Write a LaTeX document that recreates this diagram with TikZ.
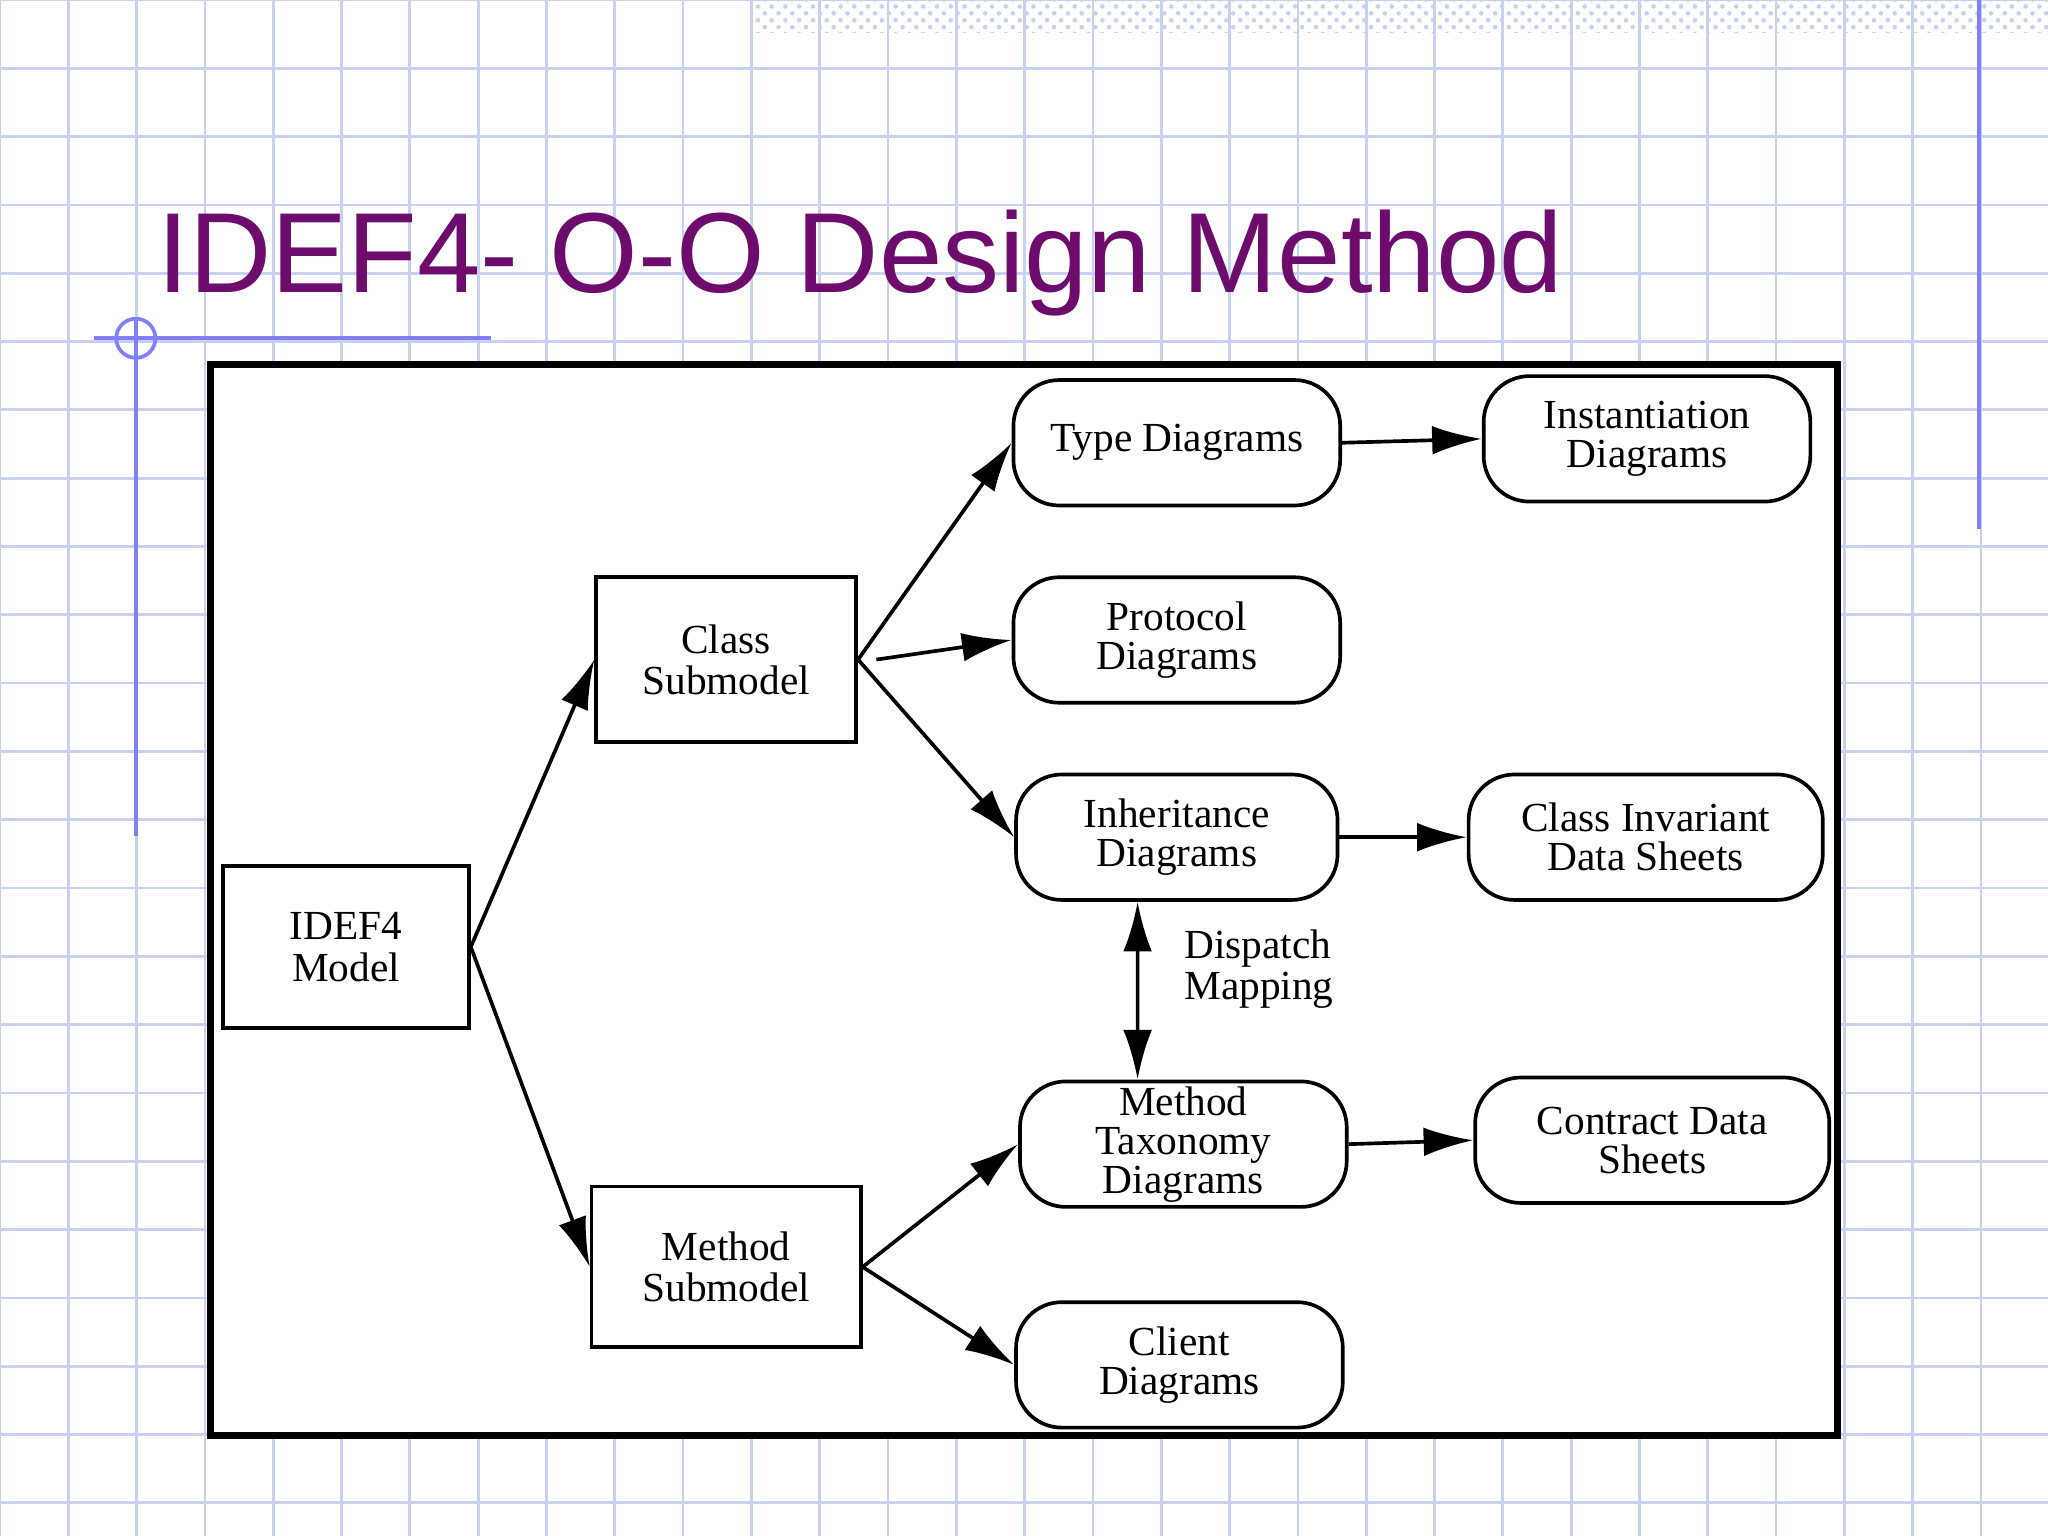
\documentclass[tikz,border=0pt]{standalone}
\usepackage{fontspec}
\setmainfont{Liberation Serif}
\newfontfamily\titlefont{Liberation Sans}
\usetikzlibrary{arrows.meta,patterns}
\definecolor{gridc}{RGB}{200,210,240}
\definecolor{titlec}{RGB}{110,12,110}
\begin{document}
\begin{tikzpicture}[x=0.01cm,y=-0.01cm,
  box/.style={draw,thick,align=center,inner sep=0pt,font=\fontsize{9}{9}\selectfont},
  rbox/.style={draw,thick,rounded corners=0.35cm,minimum width=2.5cm,minimum height=0.96cm,align=center,inner sep=0pt,font=\fontsize{9}{8.5}\selectfont},
  arr/.style={thick,-{Latex[length=0.38cm,width=0.22cm]}}]
\useasboundingbox (0,0) rectangle (1568,1176);
\fill[white] (0,0) rectangle (1568,1176);
\foreach \i in {0,...,30} {\draw[gridc,line width=0.6pt] ({\i*52.3},0) -- ({\i*52.3},1176);}
\foreach \i in {0,...,23} {\draw[gridc,line width=0.6pt] (0,{\i*52.3}) -- (1568,{\i*52.3});}
\fill[pattern=crosshatch dots,pattern color=gridc] (575,0) rectangle (1568,25);
\draw[blue!50,line width=0.8pt] (1515,0) -- (1515,405);
\draw[blue!50,line width=0.8pt] (72,259) -- (376,259);
\draw[blue!50,line width=0.8pt] (104,245) -- (104,640);
\draw[blue!50,line width=0.8pt] (104,259) circle (15);
\node[anchor=base west,inner sep=0,text=titlec,font=\titlefont\fontsize{24.8}{25}\selectfont] (title) at (120,224) {IDEF4- O-O Design Method};
\draw[line width=1.6pt,fill=white] (161,279) rectangle (1407,1099);
\node[box,minimum width=1.88cm,minimum height=1.24cm] (model) at (265,725) {IDEF4\\Model};
\node[box,minimum width=1.99cm,minimum height=1.26cm] (cls) at (556,505) {Class\\Submodel};
\node[box,minimum width=2.06cm,minimum height=1.23cm] (meth) at (556,970) {Method\\Submodel};
\node[rbox] (type) at (901,339) {Type Diagrams};
\node[rbox] (inst) at (1261,336) {Instantiation\\Diagrams};
\node[rbox] (prot) at (901,490) {Protocol\\Diagrams};
\node[rbox,minimum width=2.46cm] (inh) at (901,641) {Inheritance\\Diagrams};
\node[rbox,minimum width=2.71cm] (cinv) at (1260,641) {Class Invariant\\Data Sheets};
\node[rbox] (tax) at (906,876) {Method\\Taxonomy\\Diagrams};
\node[rbox,minimum width=2.71cm] (contr) at (1265,873) {Contract Data\\Sheets};
\node[rbox] (client) at (903,1045) {Client\\Diagrams};
\node[anchor=west,align=left,inner sep=0,font=\fontsize{9}{9}\selectfont] (disp) at (906,742) {Dispatch\\Mapping};
\draw[arr] (model.east) -- (cls.west);
\draw[arr] (model.east) -- (meth.west);
\draw[arr] (cls.east) -- (type.west);
\draw[arr] ([xshift=0.14cm]cls.east) -- (prot.west);
\draw[arr] (cls.east) -- (inh.west);
\draw[arr] (meth.east) -- (tax.west);
\draw[arr] (meth.east) -- (client.west);
\draw[arr] (type.east) -- (inst.west);
\draw[arr] (inh.east) -- (cinv.west);
\draw[arr] (tax.east) -- (contr.west);
\draw[thick,{Latex[length=0.38cm,width=0.22cm]}-{Latex[length=0.38cm,width=0.22cm]}] ([xshift=-0.3cm]inh.south) -- ([xshift=-0.35cm]tax.north);
\end{tikzpicture}
\end{document}
